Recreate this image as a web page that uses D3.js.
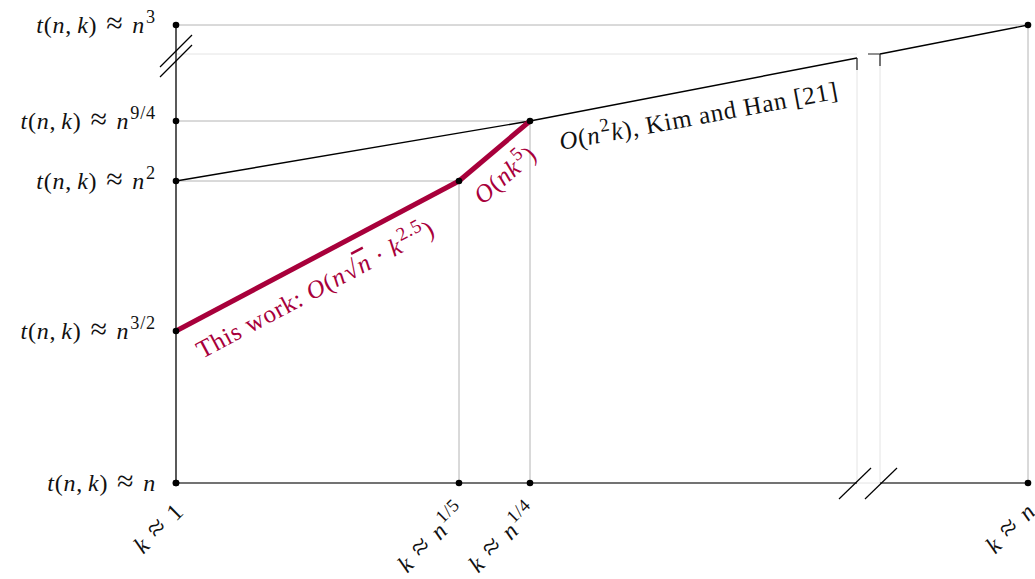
<!DOCTYPE html>
<html><head><meta charset="utf-8">
<script src="https://cdn.jsdelivr.net/npm/d3@7"></script>
<style>body{margin:0;background:#fff} text{font-family:"Liberation Serif","DejaVu Serif",serif;letter-spacing:0.8px}</style>
</head><body><svg id="c" width="1035" height="579"></svg>
<script>
// ---- data (exponents of n) ----
const kExp = [0, 0.2, 0.25, 1];
const kLabels = ["1", "n", "n", "n"];
const kSup = ["", "1/5", "1/4", ""];
const tExp = [1, 1.5, 2, 2.25, 3];
const tSup = ["", "3/2", "2", "9/4", "3"];
const kBreak = [0.5, 0.9];
const tBreak = [2.5, 2.9];
const thisWork = [[0, 1.5], [0.2, 2]];
const nk5 = [[0.2, 2], [0.25, 2.25]];
const kimHanA = [[0, 2], [0.25, 2.25], [0.5, 2.5]];
const kimHanB = [[0.9, 2.9], [1, 3]];
const gridH = [[2.25, 0.25], [2, 0.2], [3, 1]];
const gridV = [[0.2, 2], [0.25, 2.25], [1, 3]];
const extraDots = [[0.2, 2], [0.25, 2.25], [1, 3]];

const RED = "#a8003b";
const FS = 24;
const FA = 25;
const svg = d3.select("#c");
const x = d3.scaleLinear().domain([0, 0.2, 0.25, kBreak[0], kBreak[1], 1]).range([176, 459, 530, 857, 880, 1028]);
const y = d3.scaleLinear().domain([1, 1.5, 2, 2.25, tBreak[0], tBreak[1], 3]).range([483, 331, 181, 121, 58, 54, 25]);
const line = d3.line().x(d => x(d[0])).y(d => y(d[1]));

function rich(t, parts, size) {
  let shift = 0;
  parts.forEach(p => {
    const ts = t.append("tspan").text(p.t);
    if (p.i) ts.attr("font-style", "italic");
    let dy = null;
    if (p.sup) {
      ts.attr("font-size", size * 0.76);
      if (shift === 0) { dy = -size * 0.42; shift = 1; }
    } else if (shift === 1) { dy = size * 0.42; shift = 0; }
    if (p.big) ts.attr("font-size", size * 1.25);
    if (dy !== null) ts.attr("dy", dy);
    if (p.dx) ts.attr("dx", p.dx);
    if (p.ol) ts.style("text-decoration", "overline");
  });
}
const approx = [{t: " "}, {t: "≈", big: 1, dx: 2}, {t: " ", dx: 2}];

// light guides
const light = svg.append("g").attr("stroke", "#e4e4e4").attr("stroke-width", 1).attr("fill", "none");
light.append("line").attr("x1", x(0)).attr("x2", x(kBreak[0])).attr("y1", y(tBreak[1])).attr("y2", y(tBreak[1]));
light.append("line").attr("x1", x(kBreak[0])).attr("x2", x(kBreak[0])).attr("y1", y(tBreak[0])).attr("y2", y(1));
light.append("line").attr("x1", x(kBreak[1])).attr("x2", x(kBreak[1])).attr("y1", y(tBreak[1])).attr("y2", y(1));
light.append("line").attr("x1", x(kBreak[0])).attr("x2", x(kBreak[1])).attr("y1", y(1)).attr("y2", y(1));

// grid
const grid = svg.append("g").attr("stroke", "#b4b4b4").attr("stroke-width", 1);
gridH.forEach(g => grid.append("line").attr("x1", x(0)).attr("x2", x(g[1])).attr("y1", y(g[0])).attr("y2", y(g[0])));
gridV.forEach(g => grid.append("line").attr("x1", x(g[0])).attr("x2", x(g[0])).attr("y1", y(1)).attr("y2", y(g[1])));

// axes
svg.append("line").attr("x1", x(0)).attr("x2", x(kBreak[0])).attr("y1", y(1)).attr("y2", y(1)).attr("stroke", "#444").attr("stroke-width", 1.3);
svg.append("line").attr("x1", x(kBreak[1])).attr("x2", x(1)).attr("y1", y(1)).attr("y2", y(1)).attr("stroke", "#444").attr("stroke-width", 1.3);
svg.append("line").attr("x1", x(0)).attr("x2", x(0)).attr("y1", y(1)).attr("y2", y(3)).attr("stroke", "#000").attr("stroke-width", 1.3);

// break marks
const bm = svg.append("g").attr("stroke", "#000").attr("stroke-width", 1.2);
const ym = (y(tBreak[0]) + y(tBreak[1])) / 2;
[ym - 5, ym + 5].forEach(cy => bm.append("line").attr("x1", x(0) - 16).attr("y1", cy + 16).attr("x2", x(0) + 16).attr("y2", cy - 16));
[x(kBreak[0]) - 2, x(kBreak[1]) + 1].forEach(cx => bm.append("line").attr("x1", cx - 16).attr("y1", y(1) + 16).attr("x2", cx + 16).attr("y2", y(1) - 15));

// Kim & Han line
svg.append("path").attr("d", line(kimHanA)).attr("fill", "none").attr("stroke", "#000").attr("stroke-width", 1.4);
svg.append("path").attr("d", line(kimHanB)).attr("fill", "none").attr("stroke", "#000").attr("stroke-width", 1.4);
const e = kimHanA[kimHanA.length - 1], s = kimHanB[0];
svg.append("path").attr("d", `M${x(e[0])},${y(e[1])}V${y(e[1]) + 12}`).attr("stroke", "#222").attr("stroke-width", 1.2).attr("fill", "none");
svg.append("path").attr("d", `M${x(s[0]) - 12},${y(s[1])}H${x(s[0])}V${y(s[1]) + 12}`).attr("stroke", "#222").attr("stroke-width", 1.2).attr("fill", "none");

// this work + nk5
svg.append("path").attr("d", line(thisWork)).attr("fill", "none").attr("stroke", RED).attr("stroke-width", 5);
svg.append("path").attr("d", line(nk5)).attr("fill", "none").attr("stroke", RED).attr("stroke-width", 5);

// dots
const dots = [];
tExp.forEach(t => dots.push([0, t]));
kExp.forEach(k => dots.push([k, 1]));
extraDots.forEach(d => dots.push(d));
svg.append("g").selectAll("circle").data(dots).join("circle")
  .attr("cx", d => x(d[0])).attr("cy", d => y(d[1])).attr("r", 3.3).attr("fill", "#000");

// y labels
tExp.forEach((t, i) => {
  const tx = svg.append("text").attr("x", x(0) - 20).attr("y", y(t) + 8).attr("text-anchor", "end").attr("font-size", FS).attr("fill", "#111");
  const parts = [{t: "t", i: 1}, {t: "("}, {t: "n", i: 1}, {t: ","}, {t: "k", i: 1, dx: 5}, {t: ")"}, ...approx, {t: "n", i: 1}];
  if (tSup[i]) parts.push({t: tSup[i], sup: 1, dx: 1});
  rich(tx, parts, FS);
});

// x labels
kExp.forEach((k, i) => {
  const px = x(k) + 9, py = y(1) + 30;
  const tx = svg.append("text").attr("transform", `translate(${px},${py}) rotate(-45)`).attr("text-anchor", "end").attr("font-size", FS).attr("fill", "#111");
  const parts = [{t: "k", i: 1}, ...approx, {t: kLabels[i], i: kLabels[i] === "n" ? 1 : 0}];
  if (kSup[i]) parts.push({t: kSup[i], sup: 1, dx: 1});
  rich(tx, parts, FS);
});

// annotations
const a1 = [x(thisWork[0][0]) + 26, y(thisWork[0][1]) + 28];
const t1 = svg.append("text").attr("transform", `translate(${a1[0]},${a1[1]}) rotate(-28)`).attr("font-size", FA).attr("fill", RED);
rich(t1, [{t: "This work: "}, {t: "O", i: 1}, {t: "("}, {t: "n", i: 1}, {t: "√", dx: 1}, {t: "n", i: 1, ol: 1}, {t: " · "}, {t: "k", i: 1}, {t: "2.5", sup: 1, dx: 1}, {t: ")"}], FA);

const mid = [(x(nk5[0][0]) + x(nk5[1][0])) / 2 + 16, (y(nk5[0][1]) + y(nk5[1][1])) / 2 + 30];
const t2 = svg.append("text").attr("transform", `translate(${mid[0]},${mid[1]}) rotate(-41)`).attr("text-anchor", "middle").attr("font-size", FA).attr("fill", RED);
rich(t2, [{t: "O", i: 1}, {t: "("}, {t: "nk", i: 1}, {t: "5", sup: 1, dx: 1}, {t: ")"}], FA);

const a3 = [x(0.25) + 31, y(2.25) + 29];
const t3 = svg.append("text").attr("transform", `translate(${a3[0]},${a3[1]}) rotate(-10.5)`).attr("font-size", FA).attr("fill", "#111");
rich(t3, [{t: "O", i: 1}, {t: "("}, {t: "n", i: 1}, {t: "2", sup: 1, dx: 1}, {t: "k", i: 1}, {t: "), Kim and Han [21]"}], FA);
</script></body></html>
